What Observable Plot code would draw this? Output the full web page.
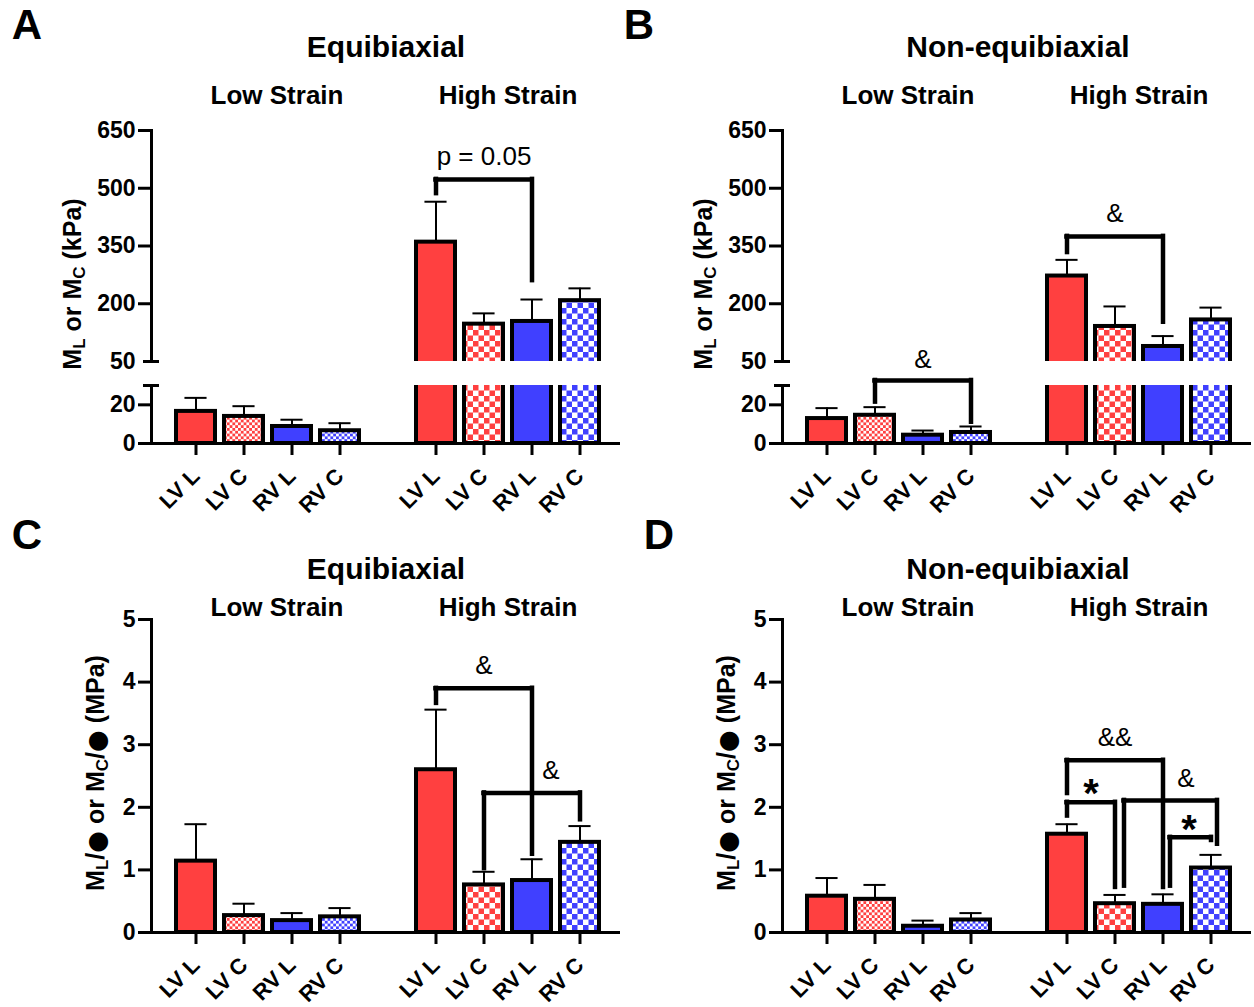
<!DOCTYPE html>
<html><head><meta charset="utf-8">
<script src="https://cdn.jsdelivr.net/npm/d3@7"></script>
<script src="https://cdn.jsdelivr.net/npm/@observablehq/plot@0.6"></script>
<style>
body{margin:0;background:#fff;font-family:"Liberation Sans",Arial,Helvetica,sans-serif;}
#root{position:relative;width:1254px;height:1007px;overflow:hidden;background:#fff}
.lbl{position:absolute;white-space:nowrap;line-height:1;font-weight:bold;color:#000;transform:translate(-50%,-50%)}
.ylab{position:absolute;white-space:nowrap;line-height:1;font-weight:bold;color:#000;font-size:25px;transform:translate(-50%,-50%) rotate(-90deg)}
.ylab sub{font-size:17px;vertical-align:-4px;line-height:0}
.ylab .blob{font-family:"DejaVu Sans",sans-serif;font-size:25px;line-height:0;vertical-align:-1px}
.plot{position:absolute}
</style></head>
<body>
<svg width="0" height="0" style="position:absolute">
<defs>
<pattern id="chkRlo" patternUnits="userSpaceOnUse" width="5.6" height="5.6"><rect width="5.6" height="5.6" fill="#fff"/><rect width="2.8" height="2.8" fill="#FF4040"/><rect x="2.8" y="2.8" width="2.8" height="2.8" fill="#FF4040"/></pattern>
<pattern id="chkBlo" patternUnits="userSpaceOnUse" width="5.6" height="5.6"><rect width="5.6" height="5.6" fill="#fff"/><rect width="2.8" height="2.8" fill="#4040FF"/><rect x="2.8" y="2.8" width="2.8" height="2.8" fill="#4040FF"/></pattern>
<pattern id="chkRhi" patternUnits="userSpaceOnUse" width="11" height="11"><rect width="11" height="11" fill="#fff"/><rect width="5.5" height="5.5" fill="#FF4040"/><rect x="5.5" y="5.5" width="5.5" height="5.5" fill="#FF4040"/></pattern>
<pattern id="chkBhi" patternUnits="userSpaceOnUse" width="11" height="11"><rect width="11" height="11" fill="#fff"/><rect width="5.5" height="5.5" fill="#4040FF"/><rect x="5.5" y="5.5" width="5.5" height="5.5" fill="#4040FF"/></pattern>
</defs>
</svg>
<div id="root"></div>
<script>
// ---------------- data ----------------
const regions = ["LV L", "LV C", "RV L", "RV C"];
const strains = ["Low Strain", "High Strain"];

// Panel A: Equibiaxial, kPa
const aLowMean  = [16.6, 14.0, 8.8, 6.6];
const aLowErr   = [7.0, 5.3, 3.5, 3.9];
const aHighMean = [360, 147, 154, 208];
const aHighErr  = [105, 28, 57, 32];
// Panel B: Non-equibiaxial, kPa
const bLowMean  = [12.9, 14.6, 4.3, 5.7];
const bLowErr   = [5.4, 4.2, 2.4, 3.1];
const bHighMean = [272, 141, 89, 158];
const bHighErr  = [42, 52, 27, 32];
// Panel C: Equibiaxial, MPa
const cLowMean  = [1.14, 0.27, 0.19, 0.25];
const cLowErr   = [0.59, 0.19, 0.12, 0.14];
const cHighMean = [2.60, 0.76, 0.83, 1.44];
const cHighErr  = [0.96, 0.21, 0.34, 0.26];
// Panel D: Non-equibiaxial, MPa
const dLowMean  = [0.58, 0.53, 0.10, 0.20];
const dLowErr   = [0.29, 0.23, 0.09, 0.11];
const dHighMean = [1.57, 0.46, 0.45, 1.03];
const dHighErr  = [0.16, 0.14, 0.16, 0.21];

const kpaTicksUpper = [650, 500, 350, 200];
const kpaBreakUpper = 50;
const kpaTicksLower = [20, 0];
const kpaBreakLower = 30;
const mpaTicks = [0, 1, 2, 3, 4, 5];

// significance brackets: from, to, bar height, leg ends, label, label position
const bracketsA = [
  {from: "High Strain|LV L", to: "High Strain|RV L", y: 523, yFrom: 486, yTo: 260, label: "p = 0.05", at: "High Strain|LV C", labelY: 583}
];
const bracketsBUpper = [
  {from: "High Strain|LV L", to: "High Strain|RV L", y: 375, yFrom: 333, yTo: 152, label: "&", at: "High Strain|LV C", labelY: 433}
];
const bracketsBLower = [
  {from: "Low Strain|LV C", to: "Low Strain|RV C", y: 32.6, yFrom: 21.4, yTo: 11.0, label: "&", at: "Low Strain|RV L", labelY: 43.6}
];
const bracketsC = [
  {from: "High Strain|LV L", to: "High Strain|RV L", y: 3.90, yFrom: 3.66, yTo: 1.25, label: "&", at: "High Strain|LV C", labelY: 4.27},
  {from: "High Strain|LV C", to: "High Strain|RV C", y: 2.23, yFrom: 1.02, yTo: 1.80, label: "&", at: "High Strain|RV L", labelY: 2.59}
];
const bracketsD = [
  {from: "High Strain|LV L", to: "High Strain|RV L", y: 2.75, yFrom: 2.22, yTo: 0.72, label: "&&", at: "High Strain|LV C", labelY: 3.11},
  {from: "High Strain|LV L", to: "High Strain|LV C", y: 2.08, yFrom: 1.86, yTo: 0.72, label: "*", at: "High Strain|LV L", labelY: 2.40},
  {from: "High Strain|LV C", to: "High Strain|RV C", y: 2.11, yFrom: 0.74, yTo: 1.41, label: "&", at: "High Strain|RV L", labelY: 2.46},
  {from: "High Strain|RV L", to: "High Strain|RV C", y: 1.52, yFrom: 0.74, yTo: 1.47, label: "*", at: "High Strain|RV L", labelY: 1.82}
];
// drawing offsets (px) for bracket legs / labels (style only)
const bracketStyleC = [{}, {labelDx: 19}];
const bracketStyleD = [{}, {labelDx: 24, labelDy: 12, bold: true}, {sFrom: 9, sTo: 6, labelDx: 23}, {sFrom: 7, labelDx: 26, labelDy: 12, bold: true}];

// ---------------- styling / layout ----------------
const RED = "#FF4040", BLUE = "#4040FF";
const W = 620, ML = 151, INSET_L = 20, INSET_R = 17, PAD = 0.19;
const xDomain = [...regions.map(r => `${strains[0]}|${r}`), "gap", ...regions.map(r => `${strains[1]}|${r}`)];
const realKeys = xDomain.filter(k => k !== "gap");
const step = (W - ML - INSET_L - INSET_R) / xDomain.length;
const bw = step * (1 - PAD);
const capInset = (bw - 22) / 2;
const FONT = "Liberation Sans, Arial, Helvetica, sans-serif";

function fillFor(strain, region) {
  const lo = strain === strains[0];
  if (region === "LV L") return RED;
  if (region === "RV L") return BLUE;
  if (region === "LV C") return lo ? "url(#chkRlo)" : "url(#chkRhi)";
  return lo ? "url(#chkBlo)" : "url(#chkBhi)";
}
function makeRows(lm, le, hm, he) {
  const out = [];
  [[lm, le], [hm, he]].forEach(([m, e], s) => regions.forEach((r, i) => out.push({
    key: `${strains[s]}|${r}`, strain: strains[s], region: r, mean: m[i], top: m[i] + e[i], fill: fillFor(strains[s], r)
  })));
  return out;
}

function bracketMarks(brackets, styles = []) {
  const marks = [];
  brackets.forEach((b, i) => {
    const st = styles[i] || {};
    const sF = st.sFrom || 0, sT = st.sTo || 0;
    const common = {stroke: "black", strokeWidth: 4.5, strokeLinecap: "square"};
    marks.push(Plot.ruleX([b], {x: "from", y1: "yFrom", y2: "y", dx: sF, ...common}));
    marks.push(Plot.ruleX([b], {x: "to", y1: "yTo", y2: "y", dx: sT, ...common}));
    marks.push(Plot.ruleY([b], {x1: "from", x2: "to", y: "y", insetLeft: bw / 2 + sF, insetRight: bw / 2 - sT, ...common}));
    marks.push(Plot.text([b], {x: "at", y: "labelY", text: "label", dx: st.labelDx || 0, dy: st.labelDy || 0,
      fontSize: st.bold ? 40 : 26, fontWeight: st.bold ? "bold" : "normal", fill: "black"}));
  });
  return marks;
}

const fmt = d => `${d}`;
function panelPlot({left, top, height, mt, mb, yDomain, rows, ticks, breakTick, labelTicks, xAxis, brackets, bStyles}) {
  const marks = [
    Plot.ruleX(rows, {x: "key", y1: "mean", y2: "top", stroke: "black", strokeWidth: 2, clip: true}),
    Plot.tickY(rows, {x: "key", y: "top", stroke: "black", strokeWidth: 2, insetLeft: capInset, insetRight: capInset, clip: true}),
    Plot.barY(rows, {x: "key", y: "mean", fill: "fill", stroke: "black", strokeWidth: 4, clip: true}),
    Plot.frame({anchor: "left", stroke: "black", strokeWidth: 3}),
    Plot.axisY({ticks, tickFormat: fmt, tickSize: 13, tickPadding: 3, strokeWidth: 3, fontSize: 23, fontWeight: "bold", label: null}),
  ];
  if (breakTick != null) {
    marks.push(Plot.axisY({ticks: [breakTick], tickSize: 16, dx: 8, strokeWidth: 3, tickFormat: () => "", label: null}));
  }
  if (labelTicks) {
    marks.push(Plot.axisY({ticks: labelTicks, tickFormat: fmt, tickSize: 0, tickPadding: 16, fontSize: 23, fontWeight: "bold", label: null}));
  }
  if (xAxis) {
    marks.push(Plot.ruleY([0], {stroke: "black", strokeWidth: 3}));
    marks.push(Plot.axisX({ticks: realKeys, tickFormat: k => k.split("|")[1], tickRotate: -45, tickSize: 12, tickPadding: 17,
      strokeWidth: 3, fontSize: 22, fontWeight: "bold", label: null}));
  }
  marks.push(...bracketMarks(brackets || [], bStyles));
  const svg = Plot.plot({
    width: W, height, marginLeft: ML, marginRight: 0, marginTop: mt, marginBottom: mb,
    style: {background: "transparent", overflow: "visible", fontFamily: FONT, color: "black"},
    x: {type: "band", domain: xDomain, paddingInner: PAD, paddingOuter: PAD / 2, insetLeft: INSET_L, insetRight: INSET_R, axis: null},
    y: {domain: yDomain, axis: null, label: null},
    color: {type: "identity"},
    marks
  });
  svg.classList.add("plot");
  svg.style.left = left + "px";
  svg.style.top = top + "px";
  document.getElementById("root").appendChild(svg);
}

const rowsA = makeRows(aLowMean, aLowErr, aHighMean, aHighErr);
const rowsB = makeRows(bLowMean, bLowErr, bHighMean, bHighErr);
const rowsC = makeRows(cLowMean, cLowErr, cHighMean, cHighErr);
const rowsD = makeRows(dLowMean, dLowErr, dHighMean, dHighErr);

// A
panelPlot({left: 0, top: 0, height: 361, mt: 130, mb: 0, yDomain: [50, 650], rows: rowsA,
  ticks: kpaTicksUpper, breakTick: kpaBreakUpper, labelTicks: [kpaBreakUpper], brackets: bracketsA});
panelPlot({left: 0, top: 330, height: 188, mt: 55, mb: 75, yDomain: [0, 30], rows: rowsA,
  ticks: kpaTicksLower, breakTick: kpaBreakLower, xAxis: true});
// B
panelPlot({left: 631, top: 0, height: 361, mt: 130, mb: 0, yDomain: [50, 650], rows: rowsB,
  ticks: kpaTicksUpper, breakTick: kpaBreakUpper, labelTicks: [kpaBreakUpper], brackets: bracketsBUpper});
panelPlot({left: 631, top: 330, height: 188, mt: 55, mb: 75, yDomain: [0, 30], rows: rowsB,
  ticks: kpaTicksLower, breakTick: kpaBreakLower, xAxis: true, brackets: bracketsBLower});
// C
panelPlot({left: 0, top: 540, height: 467, mt: 79, mb: 75, yDomain: [0, 5], rows: rowsC,
  ticks: mpaTicks, xAxis: true, brackets: bracketsC, bStyles: bracketStyleC});
// D
panelPlot({left: 631, top: 540, height: 467, mt: 79, mb: 75, yDomain: [0, 5], rows: rowsD,
  ticks: mpaTicks, xAxis: true, brackets: bracketsD, bStyles: bracketStyleD});

// ---------------- texts ----------------
const root = document.getElementById("root");
function addText(txt, x, y, size, cls = "lbl") {
  const d = document.createElement("div");
  d.className = cls; d.innerHTML = txt;
  d.style.left = x + "px"; d.style.top = y + "px"; if (size) d.style.fontSize = size + "px";
  root.appendChild(d);
}
const panelLetters = ["A", "B", "C", "D"];
const titles = ["Equibiaxial", "Non-equibiaxial", "Equibiaxial", "Non-equibiaxial"];
addText(panelLetters[0], 27, 25, 42); addText(panelLetters[1], 639, 25, 42);
addText(panelLetters[2], 27, 535, 42); addText(panelLetters[3], 659, 535, 42);
addText(titles[0], 386, 47, 30); addText(titles[1], 1018, 47, 30);
addText(titles[2], 386, 569, 30); addText(titles[3], 1018, 569, 30);
[[277, 508, 95], [908, 1139, 95], [277, 508, 607], [908, 1139, 607]].forEach(([x1, x2, y]) => {
  addText(strains[0], x1, y, 26); addText(strains[1], x2, y, 26);
});
const yLabKpa = "M<sub>L</sub> or M<sub>C</sub> (kPa)";
const yLabMpa = "M<sub>L</sub>/<span class=\"blob\">●</span> or M<sub>C</sub>/<span class=\"blob\">●</span> (MPa)";
addText(yLabKpa, 72, 284, null, "ylab"); addText(yLabKpa, 703, 284, null, "ylab");
addText(yLabMpa, 95, 773, null, "ylab"); addText(yLabMpa, 726, 773, null, "ylab");
</script>
</body></html>
